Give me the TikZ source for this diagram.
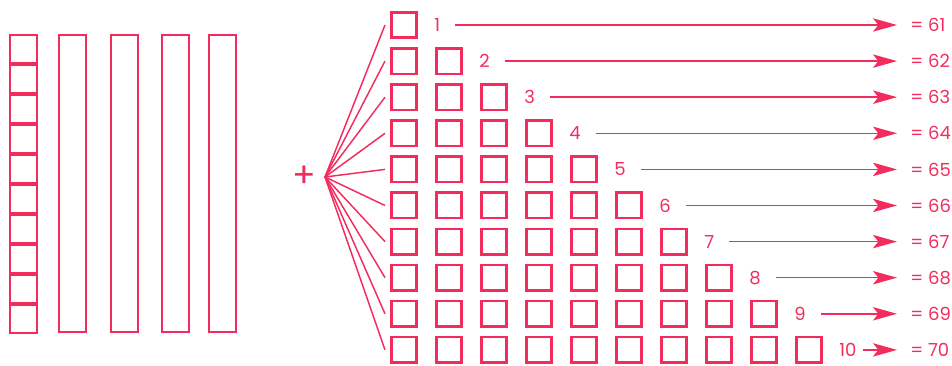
\documentclass[tikz,border=0pt]{standalone}
\usepackage{fontspec}
\setmainfont{Poppins}
\usetikzlibrary{arrows.meta,positioning}
\definecolor{ink}{HTML}{F22D5E}

\begin{document}
\begin{tikzpicture}[
  x=0.75pt, y=-0.75pt,
  font=\fontsize{13.5}{16}\selectfont,
  every node/.style={text=ink},
  unit/.style={draw=ink,line width=1.5pt,inner sep=0pt,
               minimum width=20.25pt,minimum height=21pt},
  rod/.style={unit,minimum height=222.75pt},
  sq/.style={draw=ink,line width=1.9pt,inner sep=0pt,minimum size=19.1pt},
  num/.style={inner sep=0pt},
  res/.style={inner sep=0pt,anchor=west},
  fanline/.style={draw=ink,line width=1.1pt},
  ar/.style={draw=ink,line width=1.1pt,
             -{Stealth[length=18pt,width=10pt,inset=4pt]}},
]
\useasboundingbox (0,0) rectangle (952,366);

% ---- left: ten units, then four rods
\node[unit] (unit1) at (23.5,49) {};
\foreach \k [remember=\k as \prev (initially 1)] in {2,...,10}
  \node[unit,below=0pt of unit\prev] (unit\k) {};
\foreach \x [count=\k] in {72.5,124.5,175.5,222.5}
  \node[rod] (rod\k) at (\x,183.5) {};

% ---- the plus and the fan point
\node[font=\fontsize{26}{26}\selectfont] (plus) at (304,177) {+};
\coordinate (fan) at (325,177);

% ---- staircase: row i has i squares
\foreach \i in {1,...,10}{
  \pgfmathsetmacro\rowy{25+36.1*(\i-1)}
  \pgfmathtruncatemacro\val{60+\i}
  \pgfmathsetmacro\gap{\i<10 ? 11 : 5}
  \foreach \j in {1,...,\i}
    \node[sq] (sq-\i-\j) at ({404+45*(\j-1)},\rowy) {};
  \draw[fanline] (fan) -- ([xshift=-3.75pt]sq-\i-1.west);
  \node[num,right=12pt of sq-\i-\i] (num\i) {\i};
  \node[res] (res\i) at (910,\rowy) {= \val};
  \draw[ar,shorten >=9.75pt] ([xshift=\gap pt]num\i.east) -- (res\i.west);
}
\end{tikzpicture}
\end{document}
